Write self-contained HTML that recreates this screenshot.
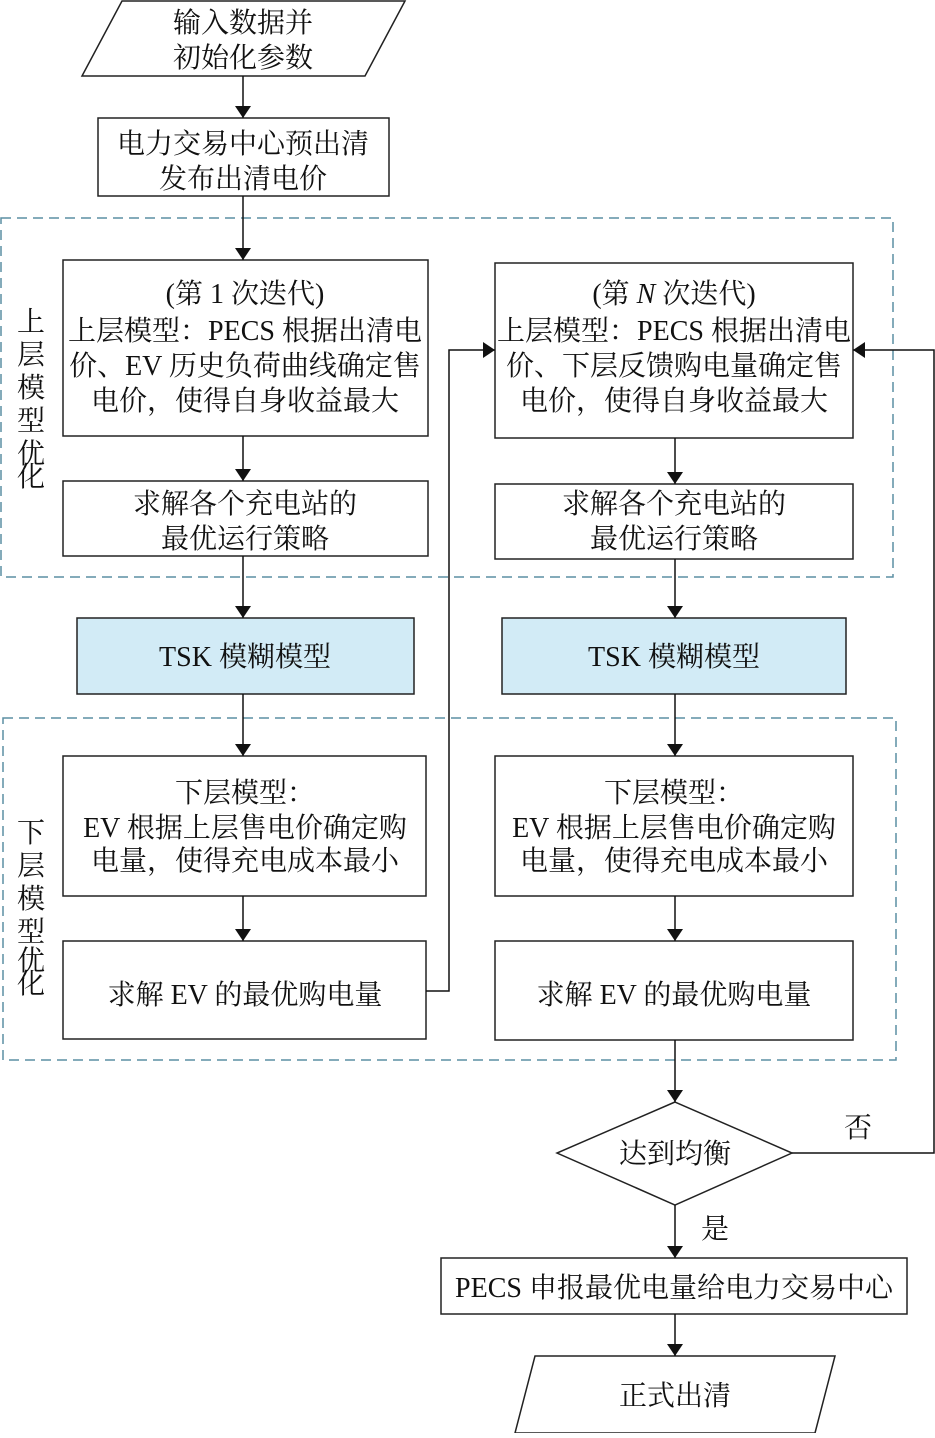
<!DOCTYPE html>
<html><head><meta charset="utf-8"><style>
html,body{margin:0;padding:0;background:#fff;}
svg text{font-family:"Liberation Serif","Noto Serif CJK SC",serif;font-size:28px;fill:#111;}
</style></head><body>
<svg width="935" height="1433" viewBox="0 0 935 1433" xmlns="http://www.w3.org/2000/svg">
<defs><marker id="a" markerWidth="12" markerHeight="16" refX="12" refY="8" orient="auto" markerUnits="userSpaceOnUse"><path d="M0,0 L12,8 L0,16 z" fill="#111"/></marker></defs>
<g fill="none" stroke="#5b8fa3" stroke-width="1.5" stroke-dasharray="10,6">
<rect x="1" y="218" width="892" height="359"/>
<rect x="3" y="718" width="893" height="342"/>
</g>
<g fill="#fff" stroke="#222" stroke-width="1.5">
<polygon points="122,1 405,1 365,76 82,76"/>
<rect x="98" y="118" width="291" height="78"/>
<rect x="63" y="260" width="365" height="176"/>
<rect x="63" y="481" width="365" height="75"/>
<rect x="77" y="618" width="337" height="76" fill="#d2ebf6"/>
<rect x="63" y="756" width="363" height="140"/>
<rect x="63" y="941" width="363" height="98"/>
<rect x="495" y="263" width="358" height="175"/>
<rect x="495" y="484" width="358" height="75"/>
<rect x="502" y="618" width="344" height="76" fill="#d2ebf6"/>
<rect x="495" y="756" width="358" height="140"/>
<rect x="495" y="941" width="358" height="99"/>
<polygon points="675,1102 792,1153 675,1205 557,1153"/>
<rect x="441" y="1258" width="466" height="56"/>
<polygon points="535,1356 835,1356 815,1433 515,1433"/>
</g>
<g stroke="#111" stroke-width="1.5" fill="none" marker-end="url(#a)">
<line x1="243" y1="76" x2="243" y2="118"/>
<line x1="243" y1="196" x2="243" y2="260"/>
<line x1="243" y1="436" x2="243" y2="481"/>
<line x1="243" y1="556" x2="243" y2="618"/>
<line x1="243" y1="694" x2="243" y2="756"/>
<line x1="243" y1="896" x2="243" y2="941"/>
<polyline points="426,991 449,991 449,350 495,350"/>
<line x1="675" y1="438" x2="675" y2="484"/>
<line x1="675" y1="559" x2="675" y2="618"/>
<line x1="675" y1="694" x2="675" y2="756"/>
<line x1="675" y1="896" x2="675" y2="941"/>
<line x1="675" y1="1040" x2="675" y2="1102"/>
<polyline points="792,1153 934,1153 934,350 853,350"/>
<line x1="675" y1="1205" x2="675" y2="1258"/>
<line x1="675" y1="1314" x2="675" y2="1356"/>
</g>
<g text-anchor="middle">
<text x="243" y="32">输入数据并</text>
<text x="243" y="67">初始化参数</text>
<text x="243" y="153">电力交易中心预出清</text>
<text x="243" y="188">发布出清电价</text>
<text x="245" y="303">(第 1 次迭代)</text>
<text x="245" y="340">上层模型：PECS 根据出清电</text>
<text x="245" y="375">价、EV 历史负荷曲线确定售</text>
<text x="245" y="410">电价，使得自身收益最大</text>
<text x="245" y="513">求解各个充电站的</text>
<text x="245" y="548">最优运行策略</text>
<text x="245" y="666">TSK 模糊模型</text>
<text x="245" y="802">下层模型：</text>
<text x="245" y="837">EV 根据上层售电价确定购</text>
<text x="245" y="870">电量，使得充电成本最小</text>
<text x="245" y="1004">求解 EV 的最优购电量</text>
<text x="674" y="303">(第 <tspan font-style="italic">N</tspan> 次迭代)</text>
<text x="674" y="340">上层模型：PECS 根据出清电</text>
<text x="674" y="375">价、下层反馈购电量确定售</text>
<text x="674" y="410">电价，使得自身收益最大</text>
<text x="674" y="513">求解各个充电站的</text>
<text x="674" y="548">最优运行策略</text>
<text x="674" y="666">TSK 模糊模型</text>
<text x="674" y="802">下层模型：</text>
<text x="674" y="837">EV 根据上层售电价确定购</text>
<text x="674" y="870">电量，使得充电成本最小</text>
<text x="674" y="1004">求解 EV 的最优购电量</text>
<text x="675" y="1163">达到均衡</text>
<text x="858" y="1137">否</text>
<text x="715" y="1238">是</text>
<text x="674" y="1297">PECS 申报最优电量给电力交易中心</text>
<text x="675" y="1405">正式出清</text>
</g>
<g text-anchor="middle">
<text x="31" y="331">上</text><text x="31" y="364">层</text><text x="31" y="397">模</text><text x="31" y="430">型</text><text x="31" y="463">优</text><text x="31" y="486">化</text>
</g>
<g text-anchor="middle">
<text x="31" y="842">下</text><text x="31" y="875">层</text><text x="31" y="908">模</text><text x="31" y="941">型</text><text x="31" y="970">优</text><text x="31" y="993">化</text>
</g>
</svg>
</body></html>
